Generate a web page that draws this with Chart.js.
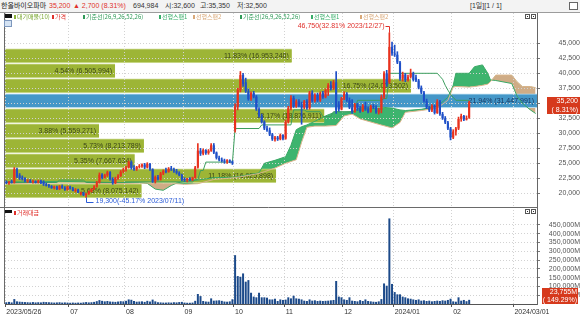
<!DOCTYPE html>
<html lang="ko"><head><meta charset="utf-8">
<script src="https://cdn.jsdelivr.net/npm/chart.js@4.4.1/dist/chart.umd.min.js"></script>
<style>
*{box-sizing:border-box}
html,body{margin:0;padding:0;width:580px;height:314px;overflow:hidden;background:#fff}
body{position:relative;font-family:"Liberation Sans","Noto Sans CJK KR",sans-serif}
.a{position:absolute;white-space:nowrap;line-height:7px}
#title{position:absolute;left:0;top:0;width:580px;height:13px;background:#f3f3f3;border-bottom:1px solid #9c9c9c}
#title .a{top:2px;font-size:7px}
.kr{font-family:"Noto Sans CJK KR",sans-serif}
canvas{position:absolute;left:0}
#cloud,#prof,#main{top:13px}
#vol{top:207px}
.lg{position:absolute;font-size:6px;font-family:"Noto Sans CJK KR",sans-serif;line-height:7px;white-space:nowrap}
.mk{position:absolute;width:2px;height:4px}
.ic{position:absolute;width:5px;height:5px;border:1px solid #555;background:#fff}
.ic i{position:absolute;left:1px;top:1px;width:1px;height:1px;background:#333}
</style></head><body>
<div id="title">
 <span class="a kr" style="left:1px;color:#222">한올바이오파마</span>
 <span class="a" style="left:49px;color:#e0302b">35,200</span>
 <span class="a" style="left:73px;color:#e0302b">▲ 2,700 (8.31%)</span>
 <span class="a" style="left:133px;color:#333">694,984</span>
 <span class="a" style="left:165px;color:#333"><span class="kr">시</span>:32,600</span>
 <span class="a" style="left:200px;color:#333"><span class="kr">고</span>:35,350</span>
 <span class="a" style="left:237px;color:#333"><span class="kr">저</span>:32,500</span>
 <span class="a" style="left:470px;color:#333">[1<span class="kr">일</span>][1 / 1]</span>
 <span class="a" style="left:569px;top:2px;width:9px;height:8px;border:1px solid #666;background:#fff"></span>
</div>
<canvas id="cloud" width="580" height="194"></canvas>
<canvas id="prof" width="580" height="194"></canvas>
<canvas id="main" width="580" height="194"></canvas>
<canvas id="vol" width="580" height="107"></canvas>

<div class="a" style="left:5px;top:14px;width:7px;height:4px;background:#111"></div>
<div class="a" style="left:4px;top:20px;width:8px;height:7px;background:#d5e3f3;border:1px solid #7d97bd"></div>
<div class="mk" style="left:14px;top:15px;background:#8cb23a"></div><span class="lg" style="left:17px;top:13px;color:#7aa832">대기매물(10)</span>
<div class="mk" style="left:52px;top:15px;background:#e0302b"></div><span class="lg" style="left:55px;top:13px;color:#e0302b">가격</span>
<div class="mk" style="left:83px;top:15px;background:#2f9a58"></div><span class="lg" style="left:86px;top:13px;color:#2f9a58">기준선(26,9,26,52,26)</span>
<div class="mk" style="left:159px;top:15px;background:#36ad68"></div><span class="lg" style="left:162px;top:13px;color:#36ad68">선행스팬1</span>
<div class="mk" style="left:193px;top:15px;background:#d9a878"></div><span class="lg" style="left:196px;top:13px;color:#d9a878">선행스팬2</span>
<div class="mk" style="left:240px;top:15px;background:#2f9a58"></div><span class="lg" style="left:243px;top:13px;color:#2f9a58">기준선(26,9,26,52,26)</span>
<div class="mk" style="left:311px;top:15px;background:#36ad68"></div><span class="lg" style="left:314px;top:13px;color:#36ad68">선행스팬1</span>
<div class="mk" style="left:360px;top:15px;background:#d9a878"></div><span class="lg" style="left:363px;top:13px;color:#d9a878">선행스팬2</span>
<div class="ic" style="left:525px;top:14px"><i></i></div><div class="ic" style="left:531px;top:14px"><i></i></div>

<div class="a" style="left:5px;top:210px;width:7px;height:3px;background:#111"></div>
<div class="mk" style="left:14px;top:211px;background:#e0302b"></div><span class="lg" style="left:17px;top:209px;color:#e0302b">거래대금</span>
<div class="ic" style="left:525px;top:209px"><i></i></div><div class="ic" style="left:531px;top:209px"><i></i></div>

<script>
// ---------- DATA ----------
const tickIdx  = [0, 24, 45, 67, 86, 105, 127, 146, 168, 191];
const tickText = ['2023/05/26','07','08','09','10','11','12','2024/01','02','2024/03/01'];
const priceTicks = [20000, 22500, 25000, 27500, 30000, 32500, 35000, 37500, 40000, 42500, 45000];
const volTicks = [50000, 100000, 150000, 200000, 250000, 300000, 350000, 400000, 450000];

const openP = [21900,21700,21900,21800,24000,23000,22600,22500,22000,22100,21900,22000,21800,22100,21900,21500,21300,21200,20900,21100,20700,21200,20900,20600,21100,20800,20400,20600,19900,20100,19700,19900,20300,20700,21100,21800,23100,22600,23000,23500,22400,21700,22500,22900,23600,24000,24300,25200,24200,24000,24400,24500,24800,24300,24900,24000,22000,22700,22300,23300,23700,23600,24100,24000,23700,23400,23000,22300,22200,22400,22200,22600,24300,27100,26600,27200,26700,27100,28000,26800,25900,25600,25400,25300,25500,25300,30500,34400,37200,39700,38500,37000,35700,36700,36100,34000,32900,31900,30800,30500,29800,29000,29300,29000,29700,29100,31900,34200,35900,34500,35300,34600,34300,35300,34200,36800,35400,36400,35500,36700,36000,37200,38000,37500,38500,34800,34000,35800,36600,35500,34300,33600,34800,34100,33700,34600,34000,33600,34500,34300,33500,33900,36100,40000,38500,44400,43300,43100,41800,39100,39800,38900,39400,40000,39300,38800,37600,36800,35400,34300,33800,34600,33400,35300,33200,32500,31800,30800,29300,30300,30800,32400,32900,32300,32600];
const highP = [22100,22000,22200,24300,24200,23300,22900,22600,22300,22300,22200,22100,22200,22200,22100,21700,21500,21300,21200,21200,21300,21400,21100,21200,21200,21000,20800,20700,20200,20200,20000,20400,20800,21300,22000,23400,23300,23200,23700,23600,22600,22700,23100,23800,24200,24500,25400,25400,24600,24500,24800,24900,25000,25100,25000,24100,22900,23000,23500,23900,24200,24300,24500,24200,24000,23600,23200,22600,22500,22600,22700,24500,28300,27500,27400,27300,27300,28300,28300,26900,26200,25900,25700,25600,25600,25400,34900,37500,40300,40000,39200,37400,36900,37000,36300,34300,33200,32100,31200,30900,30000,29500,29500,29900,29800,32200,34500,36300,36200,35600,35600,35200,35500,35600,37000,37100,36600,36700,36900,37000,37400,38300,38600,38800,40300,35300,36000,36900,36800,35900,35600,35000,35000,34500,34800,35200,34400,34700,34800,34600,34200,36400,40300,40500,46750,45200,44700,43600,42000,40200,40000,39700,40700,40200,39700,39000,37900,37000,35700,34500,34800,34700,35600,35500,33500,32800,32000,31000,30600,31000,32700,33200,33000,32900,35350];
const lowP = [21600,21500,21700,21700,22600,22300,22200,21900,21800,21800,21700,21700,21700,21600,21300,21200,21000,20800,20700,20600,20600,20800,20500,20500,20700,20400,20200,20100,19700,19600,19300,19800,20200,20600,21000,21700,22400,22500,22800,22200,21500,21600,22300,22800,23400,23700,24200,24000,23800,23800,24200,24300,24100,24200,23800,21800,21700,22200,22200,23100,23400,23500,23800,23500,23200,22900,22100,22000,21900,22100,22100,22500,24200,26300,26400,26500,26500,27000,26600,25700,25400,25200,25000,25000,25100,24800,30200,33900,36900,37800,36800,35500,35500,35900,33800,32700,31700,30600,30300,29600,28800,28700,28800,28900,28900,29000,31700,33900,34300,34300,34400,31500,34100,34000,34000,35200,35200,35300,35300,35800,35900,36300,37200,37300,33300,33700,33900,35600,35300,34100,33300,33500,33800,33500,33600,33800,33400,33500,34100,33300,33200,33400,35800,37800,38300,43000,42800,41600,38800,38700,38600,38700,39200,38700,38600,37400,36600,35200,34100,33600,33600,33200,33300,33000,32300,31600,30600,28900,29100,29700,30600,32000,32100,32200,32500];
const closeP = [21700,21900,21800,24000,22800,22500,22400,22000,22100,21900,22000,21800,22100,21700,21500,21300,21200,20900,21100,20700,21200,20900,20600,21100,20800,20400,20600,20100,20100,19700,19900,20300,20700,21100,21800,23100,22600,23000,23500,22400,21700,22500,22900,23600,24000,24300,25200,24200,24000,24400,24500,24800,24300,24900,24000,22000,22700,22300,23300,23700,23600,24100,24000,23700,23400,23000,22300,22200,22400,22200,22600,24300,27100,26600,27200,26700,27100,28000,26800,25900,25600,25400,25300,25500,25300,25000,34400,37200,39700,38200,37000,35700,36700,36100,34000,32900,31900,30800,30500,29800,29000,29300,29000,29700,29100,31900,34200,35900,34500,35300,34600,34300,35300,34200,36800,35400,36400,35500,36700,36000,37200,38000,37500,38500,33800,34000,35800,36600,35500,34300,33600,34800,34100,33700,34600,34000,33600,34500,34300,33500,33900,36100,40000,38200,44400,43300,43100,41800,39100,39800,38900,39400,40000,38900,38800,37600,36800,35400,34300,33800,34600,33400,35300,33200,32500,31800,30800,29300,30300,30800,32400,32900,32300,32500,35200];
const volM = [10000,12000,9000,28000,15000,13000,12000,11000,10000,9000,11000,9000,10000,9000,12000,11000,10000,9000,8000,9000,10000,8000,9000,8000,7000,8000,7000,8000,7000,9000,11000,9000,10000,12000,16000,22000,18000,15000,17000,14000,13000,12000,14000,16000,15000,18000,26000,24000,17000,13000,14000,15000,12000,18000,14000,25000,15000,10000,9000,8000,8000,9000,8000,10000,9000,11000,12000,8000,7000,7000,8000,18000,57000,45000,17000,14000,13000,32000,19000,20000,21000,18000,14000,13000,15000,27000,278000,159000,155000,174000,127000,136000,64000,42000,38000,64000,38000,38000,36000,26000,26000,30000,17000,26000,23000,25000,38000,32000,47000,32000,30000,26000,19000,17000,26000,19000,21000,17000,19000,17000,18000,19000,21000,23000,131000,42000,38000,26000,23000,38000,19000,17000,15000,22000,17000,26000,17000,15000,13000,12000,15000,28000,117000,104000,487000,114000,68000,55000,55000,42000,38000,32000,30000,26000,23000,26000,19000,21000,17000,19000,15000,17000,19000,17000,21000,19000,23000,30000,15000,13000,38000,19000,23000,15900,23755];

const kijunIdx = [0,19,20,29,30,44,45,70,71,72,73,74,75,85,86,95,96,107,108,112,113,118,119,122,123,131,132,141,142,143,144,162,163,164,165,166,167,168,169,174];
const kijunVal = [21800,21800,22200,22200,21800,21800,21900,21900,22300,22300,23800,23800,25200,25200,30800,30800,31400,31400,33900,33900,33600,33600,32800,32800,33600,33600,35500,35500,35800,35800,40000,40000,39500,39000,38000,37200,36500,36000,35500,35500];

const cloudIdx = [0,10,20,30,40,50,53,56,59,62,64,67,72,78,86,95,97,101,105,107,109,111,113,116,120,124,127,130,133,140,145,148,150,156,162,166,168,169,174,176,179,181,182,184,190,192,194,197,199];
const span1 = [21900,21900,22000,21900,21800,21800,21650,20700,20500,21300,21700,22000,22200,22600,22700,23400,25000,25500,26100,28000,30600,31100,31400,32000,32900,33600,33500,33600,34300,34400,34200,33900,33800,34000,34500,36000,38000,40000,40000,41100,41400,40000,38900,38800,38300,36200,35000,33900,33300];
const span2 = [21600,21700,21700,21700,21600,21700,21700,21650,21600,21600,21600,21500,21600,22300,22600,23300,23600,24200,25000,25300,25600,28500,31000,31200,31200,31300,32900,33200,32400,31500,30900,31800,33500,33800,34200,35500,37700,37800,37700,37800,38000,38200,38600,39700,39700,38600,37800,37800,37600];

const profileMid = [42920, 40420, 37920, 35420, 32920, 30420, 27920, 25420, 22920, 20420];
const profileVol = [16953248, 6505994, 24003502, 31447991, 18876911, 5559271, 8213789, 7667634, 16025898, 8075142];
const profilePct = ['11.83','4.54','16.75','21.94','13.17','3.88','5.73','5.35','11.18','5.63'];
const currentBand = 3;

const highIdx = 144, lowIdx = 30;
const highText = '46,750(32.81% 2023/12/27)';
const lowText = '19,300(-45.17% 2023/07/11)';
const lastPriceText = ['35,200', '( 8.31%)'];
const lastVolText = ['23,755M', '( 149.29%)'];

const NCAT = 200;
const labels = Array.from({length: NCAT}, (_, i) => i);
const PMIN = 17717, PMAX = 50050;

// ---------- STYLE ----------
const C_UP = '#e8321e', C_DN = '#1f50c8';
const NUMFONT = '"Liberation Sans", sans-serif';
const GRID = '#d2d2d2';
const candleColor = closeP.map((c, i) => c >= openP[i] ? C_UP : C_DN);
const gridColorX = c => tickIdx.includes(c.index) ? GRID : 'rgba(0,0,0,0)';
const fitRight = s => { s.width = 43; s.paddingTop = 0; s.paddingBottom = 0; };
const span1Pts = cloudIdx.map((k, i) => ({x: k, y: span1[i]}));
const span2Pts = cloudIdx.map((k, i) => ({x: k, y: span2[i]}));
const baseOpts = {
  responsive: false, animation: false, devicePixelRatio: 1, events: [],
  plugins: {legend: {display: false}, tooltip: {enabled: false}}
};

Chart.defaults.font.family = NUMFONT;

// 1) cloud fill (lowest layer)
new Chart(document.getElementById('cloud'), {
  type: 'line',
  data: { labels, datasets: [
    { label: '구름', data: span1Pts, borderColor: 'rgba(0,0,0,0)', pointRadius: 0, tension: 0,
      fill: {target: 1, above: '#3db46e', below: '#cfac86'} },
    { label: '구름2', data: span2Pts, borderColor: 'rgba(0,0,0,0)', pointRadius: 0, tension: 0, fill: false }
  ] },
  options: Object.assign({}, baseOpts, {
    layout: {padding: {left: 5, right: 43, top: 0, bottom: 0}},
    scales: {
      x: { type: 'category', offset: true, display: false },
      y: { type: 'linear', min: PMIN, max: PMAX, display: false }
    }
  })
});

// 2) profile (대기매물) bars
const profPlugin = {
  id: 'profPlugin',
  afterDatasetsDraw(chart) {
    const ctx = chart.ctx;
    ctx.save();
    ctx.font = '7px ' + NUMFONT;
    ctx.textAlign = 'right'; ctx.textBaseline = 'middle';
    chart.getDatasetMeta(0).data.forEach((bar, i) => {
      ctx.fillStyle = i === currentBand ? '#16335c' : '#3b4619';
      ctx.fillText(profilePct[i] + '% (' + profileVol[i].toLocaleString('en-US') + ')', bar.x - 3, bar.y + 0.5);
    });
    ctx.restore();
  }
};
new Chart(document.getElementById('prof'), {
  type: 'bar',
  data: { datasets: [{ label: '대기매물',
    data: profileMid.map((m, i) => ({x: profileVol[i], y: m})),
    backgroundColor: profileMid.map((m, i) => i === currentBand ? '#4497c8' : '#9db536'),
    borderColor: profileMid.map((m, i) => i === currentBand ? '#b4daf0' : '#c6d684'),
    borderWidth: {top: 1, bottom: 1, left: 0, right: 0}, borderSkipped: false,
    barThickness: 14 }] },
  options: Object.assign({}, baseOpts, {
    indexAxis: 'y',
    layout: {padding: {left: 5, right: 43, top: 0, bottom: 0}},
    scales: {
      x: { type: 'linear', display: false, min: 0, max: 31447991 },
      y: { type: 'linear', display: false, min: PMIN, max: PMAX, offset: false }
    }
  }),
  plugins: [profPlugin]
});

// 3) price chart: span lines, 기준선, candles, axis
const mainPlugin = {
  id: 'mainPlugin',
  afterDraw(chart) {
    const {ctx, chartArea: ca, scales: {x, y}} = chart;
    ctx.save();
    ctx.strokeStyle = '#6a6a6a'; ctx.lineWidth = 1;
    ctx.beginPath(); ctx.moveTo(ca.left - 0.5, ca.top); ctx.lineTo(ca.left - 0.5, ca.bottom); ctx.stroke();
    ctx.font = '7px ' + NUMFONT; ctx.textBaseline = 'middle';
    const hx = Math.round(x.getPixelForValue(highIdx)) + 0.5, hy = y.getPixelForValue(highP[highIdx]);
    ctx.strokeStyle = '#e0302b'; ctx.fillStyle = '#e0302b';
    ctx.beginPath(); ctx.moveTo(hx - 4, Math.round(hy - 7) + 0.5); ctx.lineTo(hx, Math.round(hy - 7) + 0.5); ctx.lineTo(hx, hy); ctx.stroke();
    ctx.textAlign = 'right'; ctx.fillText(highText, hx - 5, hy - 7);
    const lx = Math.round(x.getPixelForValue(lowIdx)) + 0.5, ly = y.getPixelForValue(lowP[lowIdx]);
    ctx.strokeStyle = '#2a5bd7'; ctx.fillStyle = '#2a5bd7';
    ctx.beginPath(); ctx.moveTo(lx, ly); ctx.lineTo(lx, Math.round(ly + 4) + 0.5); ctx.lineTo(lx + 7, Math.round(ly + 4) + 0.5); ctx.stroke();
    ctx.textAlign = 'left'; ctx.fillText(lowText, lx + 9, ly + 4);
    const py = y.getPixelForValue(closeP[closeP.length - 1]);
    ctx.fillStyle = '#d6391c';
    ctx.fillRect(ca.right + 10, Math.round(py - 5), chart.width - ca.right - 10, 17);
    ctx.fillStyle = '#fff'; ctx.textAlign = 'right';
    ctx.fillText(lastPriceText[0], chart.width - 2, py - 1);
    ctx.fillText(lastPriceText[1], chart.width - 2, py + 7.5);
    ctx.restore();
  }
};

new Chart(document.getElementById('main'), {
  type: 'bar',
  data: {
    labels,
    datasets: [
      { type: 'line', label: '선행스팬1', data: span1Pts,
        borderColor: '#3aa865', borderWidth: 1, pointRadius: 0, tension: 0, fill: false, order: 8 },
      { type: 'line', label: '선행스팬2', data: span2Pts,
        borderColor: '#d7b48a', borderWidth: 1, pointRadius: 0, tension: 0, fill: false, order: 7 },
      { type: 'line', label: '기준선', data: kijunIdx.map((k, i) => ({x: k, y: kijunVal[i]})),
        borderColor: '#3d9e5e', borderWidth: 1, pointRadius: 0, tension: 0, fill: false, order: 6 },
      { type: 'bar', label: 'wick', data: lowP.map((l, i) => [l, highP[i]]),
        backgroundColor: candleColor, barThickness: 1, grouped: false, order: 2 },
      { type: 'bar', label: '가격', data: openP.map((o, i) => [o, closeP[i]]),
        backgroundColor: candleColor, barPercentage: 0.8, categoryPercentage: 1, minBarLength: 1, grouped: false, order: 1 }
    ]
  },
  options: Object.assign({}, baseOpts, {
    layout: {padding: {left: 5, right: 0, top: 0, bottom: 0}},
    scales: {
      x: { type: 'category', offset: true,
        ticks: {display: false, autoSkip: false},
        grid: {offset: true, drawTicks: false, color: gridColorX},
        border: {display: true, color: '#555', dash: [1, 2]},
        afterFit: s => { s.height = 0; } },
      y: { type: 'linear', position: 'right', min: PMIN, max: PMAX,
        afterBuildTicks: s => { s.ticks = priceTicks.map(v => ({value: v})); },
        afterFit: fitRight,
        ticks: {callback: v => v.toLocaleString('en-US'), font: {size: 7}, color: '#555', padding: 16, crossAlign: 'far'},
        grid: {color: GRID, drawTicks: true, tickLength: 3, tickColor: '#777', tickBorderDash: []},
        border: {display: true, color: '#666', dash: [1, 2]} }
    }
  }),
  plugins: [mainPlugin]
});

// 4) 거래대금 panel
const volPlugin = {
  id: 'volPlugin',
  afterDraw(chart) {
    const {ctx, chartArea: ca, scales: {y}} = chart;
    ctx.save();
    ctx.strokeStyle = '#6a6a6a'; ctx.lineWidth = 1;
    ctx.beginPath(); ctx.moveTo(ca.left - 0.5, ca.top); ctx.lineTo(ca.left - 0.5, ca.bottom); ctx.stroke();
    ctx.beginPath(); ctx.moveTo(0, ca.top + 0.5); ctx.lineTo(ca.right, ca.top + 0.5); ctx.stroke();
    const py = y.getPixelForValue(volM[volM.length - 1]);
    const top = Math.round(py - 11.5);
    ctx.fillStyle = '#d6391c';
    ctx.fillRect(ca.right + 5, top, chart.width - ca.right - 7, ca.bottom - top);
    ctx.fillStyle = '#fff'; ctx.textAlign = 'right'; ctx.textBaseline = 'middle';
    ctx.font = '7px ' + NUMFONT;
    ctx.fillText(lastVolText[0], chart.width - 3, py - 7.5);
    ctx.fillText(lastVolText[1], chart.width - 3, py + 0.5);
    ctx.restore();
  }
};

new Chart(document.getElementById('vol'), {
  type: 'bar',
  data: { labels, datasets: [{ label: '거래대금', data: volM, backgroundColor: '#1c4a8a', barPercentage: 0.75, categoryPercentage: 1 }] },
  options: Object.assign({}, baseOpts, {
    layout: {padding: {left: 5, right: 0, top: 0, bottom: 0}},
    scales: {
      x: { type: 'category', offset: true,
        ticks: {autoSkip: false, maxRotation: 0, minRotation: 0, align: 'start', padding: 1, font: {size: 7}, color: '#333',
          callback: (v, i) => { const k = tickIdx.indexOf(i); return k >= 0 ? tickText[k] : ''; }},
        grid: {offset: true, drawTicks: true, tickLength: 3, color: gridColorX,
          tickColor: c => tickIdx.includes(c.index) ? '#555' : 'rgba(0,0,0,0)', tickBorderDash: []},
        border: {display: true, color: '#555', dash: [1, 2]},
        afterFit: s => { s.height = 10; } },
      y: { type: 'linear', position: 'right', min: 0, max: 552000,
        afterBuildTicks: s => { s.ticks = volTicks.map(v => ({value: v})); },
        afterFit: fitRight,
        ticks: {callback: v => v.toLocaleString('en-US') + 'M', font: {size: 7}, color: '#555', padding: 6, crossAlign: 'far'},
        grid: {color: GRID, drawTicks: true, tickLength: 3, tickColor: '#777', tickBorderDash: []},
        border: {display: true, color: '#666', dash: [1, 2]} }
    }
  }),
  plugins: [volPlugin]
});
</script>
</body></html>
